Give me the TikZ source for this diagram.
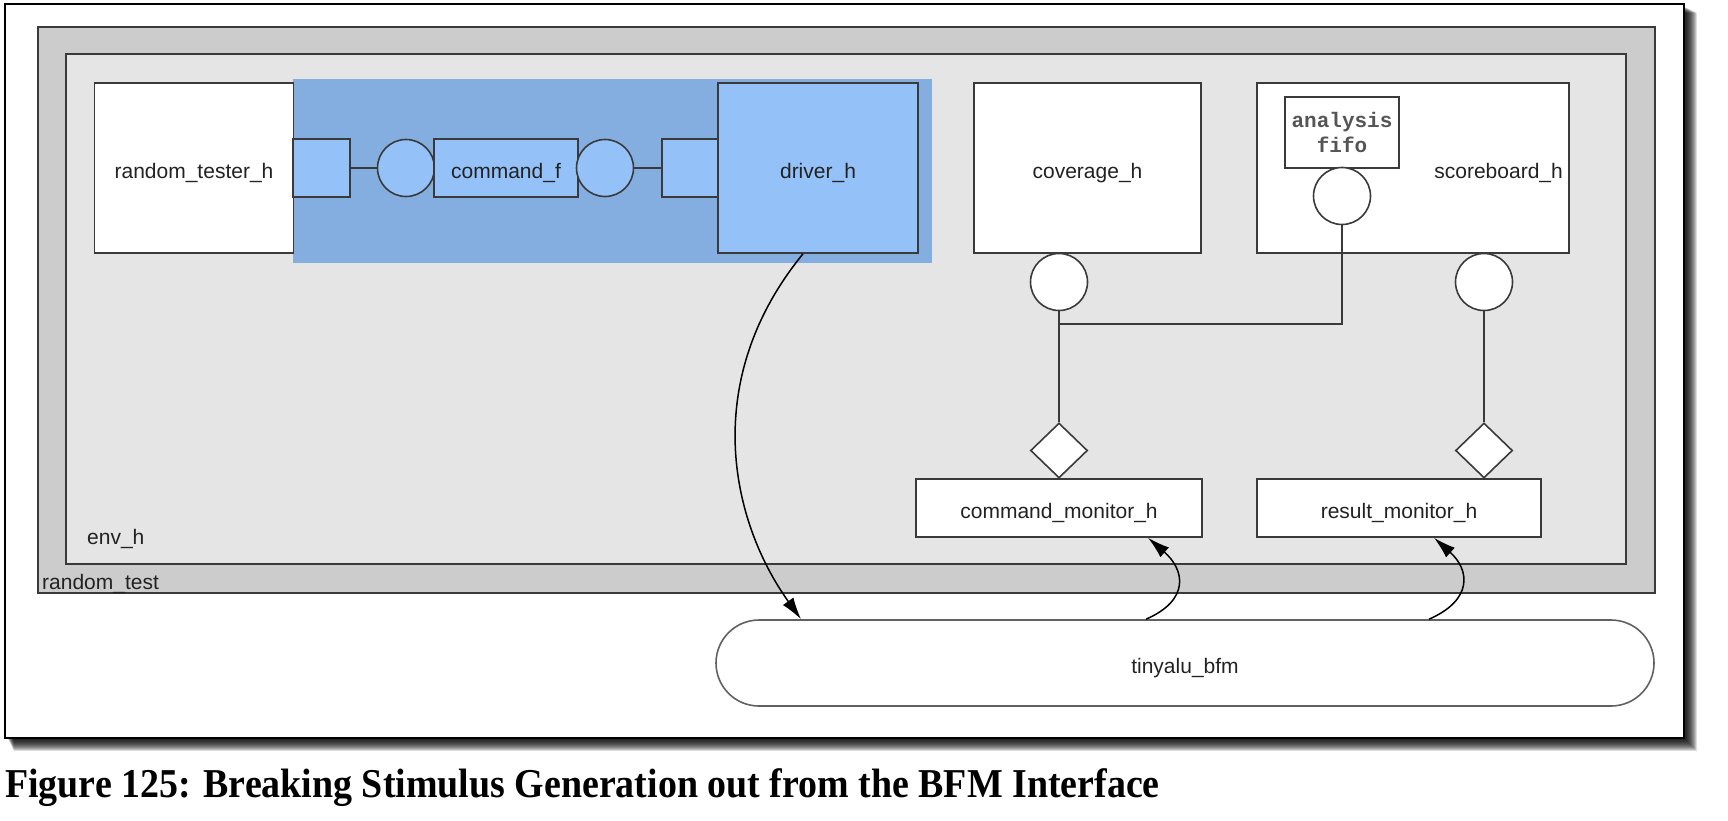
\documentclass[tikz,border=0pt]{standalone}
\usepackage{fontspec}
\setmainfont{Liberation Sans}
\newfontfamily\capfont{Liberation Serif}
\newfontfamily\fifofont{Liberation Mono}
\usetikzlibrary{shapes.geometric,arrows.meta}
\definecolor{bordc}{HTML}{3A3A3A}
\definecolor{txtc}{HTML}{222222}
\definecolor{outgray}{HTML}{CCCCCC}
\definecolor{ingray}{HTML}{E5E5E5}
\definecolor{bluereg}{HTML}{85AEE0}
\definecolor{lightblue}{HTML}{94C2F8}
\definecolor{fifotxt}{HTML}{555555}
\newcommand\lblfont{\fontsize{21}{25}\selectfont}
\begin{document}
\begin{tikzpicture}[x=1pt,y=-1pt,
  box/.style={draw=bordc,line width=1.6pt,fill=white,inner sep=0pt,font=\lblfont,text=txtc,text height=20pt,text depth=0pt},
  bluebox/.style={box,fill=lightblue},
  port/.style={circle,draw=bordc,line width=1.6pt,fill=white,inner sep=0pt,minimum size=57pt},
  blueport/.style={port,fill=lightblue},
  dia/.style={diamond,aspect=1,draw=bordc,line width=1.6pt,fill=white,inner sep=0pt,minimum width=57pt,minimum height=55pt},
  link/.style={draw=bordc,line width=1.6pt},
  arr/.style={draw=black,line width=1.5pt,-{Latex[length=22pt,width=13pt]}},
  lbl/.style={font=\lblfont,text=txtc,inner sep=0pt}]
\useasboundingbox (0,0) rectangle (1728,820);
\fill[white] (0,0) rectangle (1728,820);
% shadow
\foreach \i in {1,...,13}
  \fill[black,opacity=0.14] (7+\i/2,6+\i/2) rectangle (1684+\i,738+\i);
\node[draw=black,line width=1.8pt,fill=white,inner sep=0pt,minimum width=1679pt,minimum height=734pt] (frame) at (844.5,371) {};
% containers
\node[draw=bordc,line width=1.6pt,fill=outgray,inner sep=0pt,minimum width=1617pt,minimum height=566pt] (rtest) at (846.5,310) {};
\node[draw=bordc,line width=1.6pt,fill=ingray,inner sep=0pt,minimum width=1560pt,minimum height=510pt] (env) at (846,309) {};
\node[lbl,anchor=west] (envlbl) at (87,539) {env\_h};
\node[lbl,anchor=west] (rtlbl) at (42,584) {random\_test};
% blue region
\node[fill=bluereg,inner sep=0pt,minimum width=639pt,minimum height=184pt] (blue) at (612.5,171) {};
% top row
\node[box,minimum width=199pt,minimum height=170pt] (tester) at (194,168) {random\_tester\_h};
\node[bluebox,minimum width=57pt,minimum height=58pt] (sq1) at (321.5,168) {};
\node[blueport] (c1) at (406,168) {};
\node[bluebox,minimum width=144pt,minimum height=58pt] (cmdf) at (506,168) {command\_f};
\node[blueport] (c2) at (605,168) {};
\node[bluebox,minimum width=56pt,minimum height=58pt] (sq2) at (690,168) {};
\node[bluebox,minimum width=200pt,minimum height=170pt] (driver) at (818,168) {driver\_h};
\node[box,minimum width=227pt,minimum height=170pt] (coverage) at (1087.5,168) {coverage\_h};
\node[box,minimum width=312pt,minimum height=170pt] (scoreboard) at (1413,168) {};
\node[lbl,anchor=east,text height=20pt,text depth=0pt] (sblbl) at (1563,168) {scoreboard\_h};
\node[draw=bordc,line width=1.6pt,fill=white,inner sep=0pt,minimum width=114pt,minimum height=71pt,align=center,text=fifotxt,font=\fifofont\bfseries\fontsize{21}{25}\selectfont] (fifo) at (1342,132.5) {analysis\\fifo};
\node[port] (fc) at (1342,196) {};
\node[port] (cc) at (1059,282) {};
\node[port] (sc) at (1484,282) {};
\node[dia] (cd) at (1059,450.5) {};
\node[dia] (sd) at (1484,450.5) {};
\node[box,minimum width=286pt,minimum height=58pt] (cmon) at (1059,508) {command\_monitor\_h};
\node[box,minimum width=284pt,minimum height=58pt] (rmon) at (1399,508) {result\_monitor\_h};
\node[draw=bordc!80,line width=1.6pt,fill=white,rounded corners=43pt,inner sep=0pt,minimum width=938pt,minimum height=86pt,font=\lblfont,text=txtc,text height=20pt,text depth=0pt] (bfm) at (1185,663) {tinyalu\_bfm};
% links
\draw[link] (sq1.east) -- (c1.west);
\draw[link] (c2.east) -- (sq2.west);
\coordinate (junc) at (1059,324);
\draw[link] (fc.south) |- (junc);
\draw[link] (cc.south) -- (cd.north);
\draw[link] (sc.south) -- (sd.north);
% arrows
\draw[arr] ([xshift=-15pt]driver.south) .. controls (700,380) and (730,520) .. ([xshift=-384pt]bfm.north);
\draw[arr] ([xshift=-39pt]bfm.north) .. controls (1190,600) and (1185,570) .. ([xshift=89pt]cmon.south);
\draw[arr] ([xshift=244pt]bfm.north) .. controls (1473,600) and (1470,570) .. ([xshift=35pt]rmon.south);
% caption
\node[anchor=west,inner sep=0pt,font=\capfont\bfseries\fontsize{41}{48}\selectfont] (caption) at (5,788) {\scalebox{0.925}[1]{Figure 125: Breaking Stimulus Generation out from the BFM Interface}};
\end{tikzpicture}
\end{document}
